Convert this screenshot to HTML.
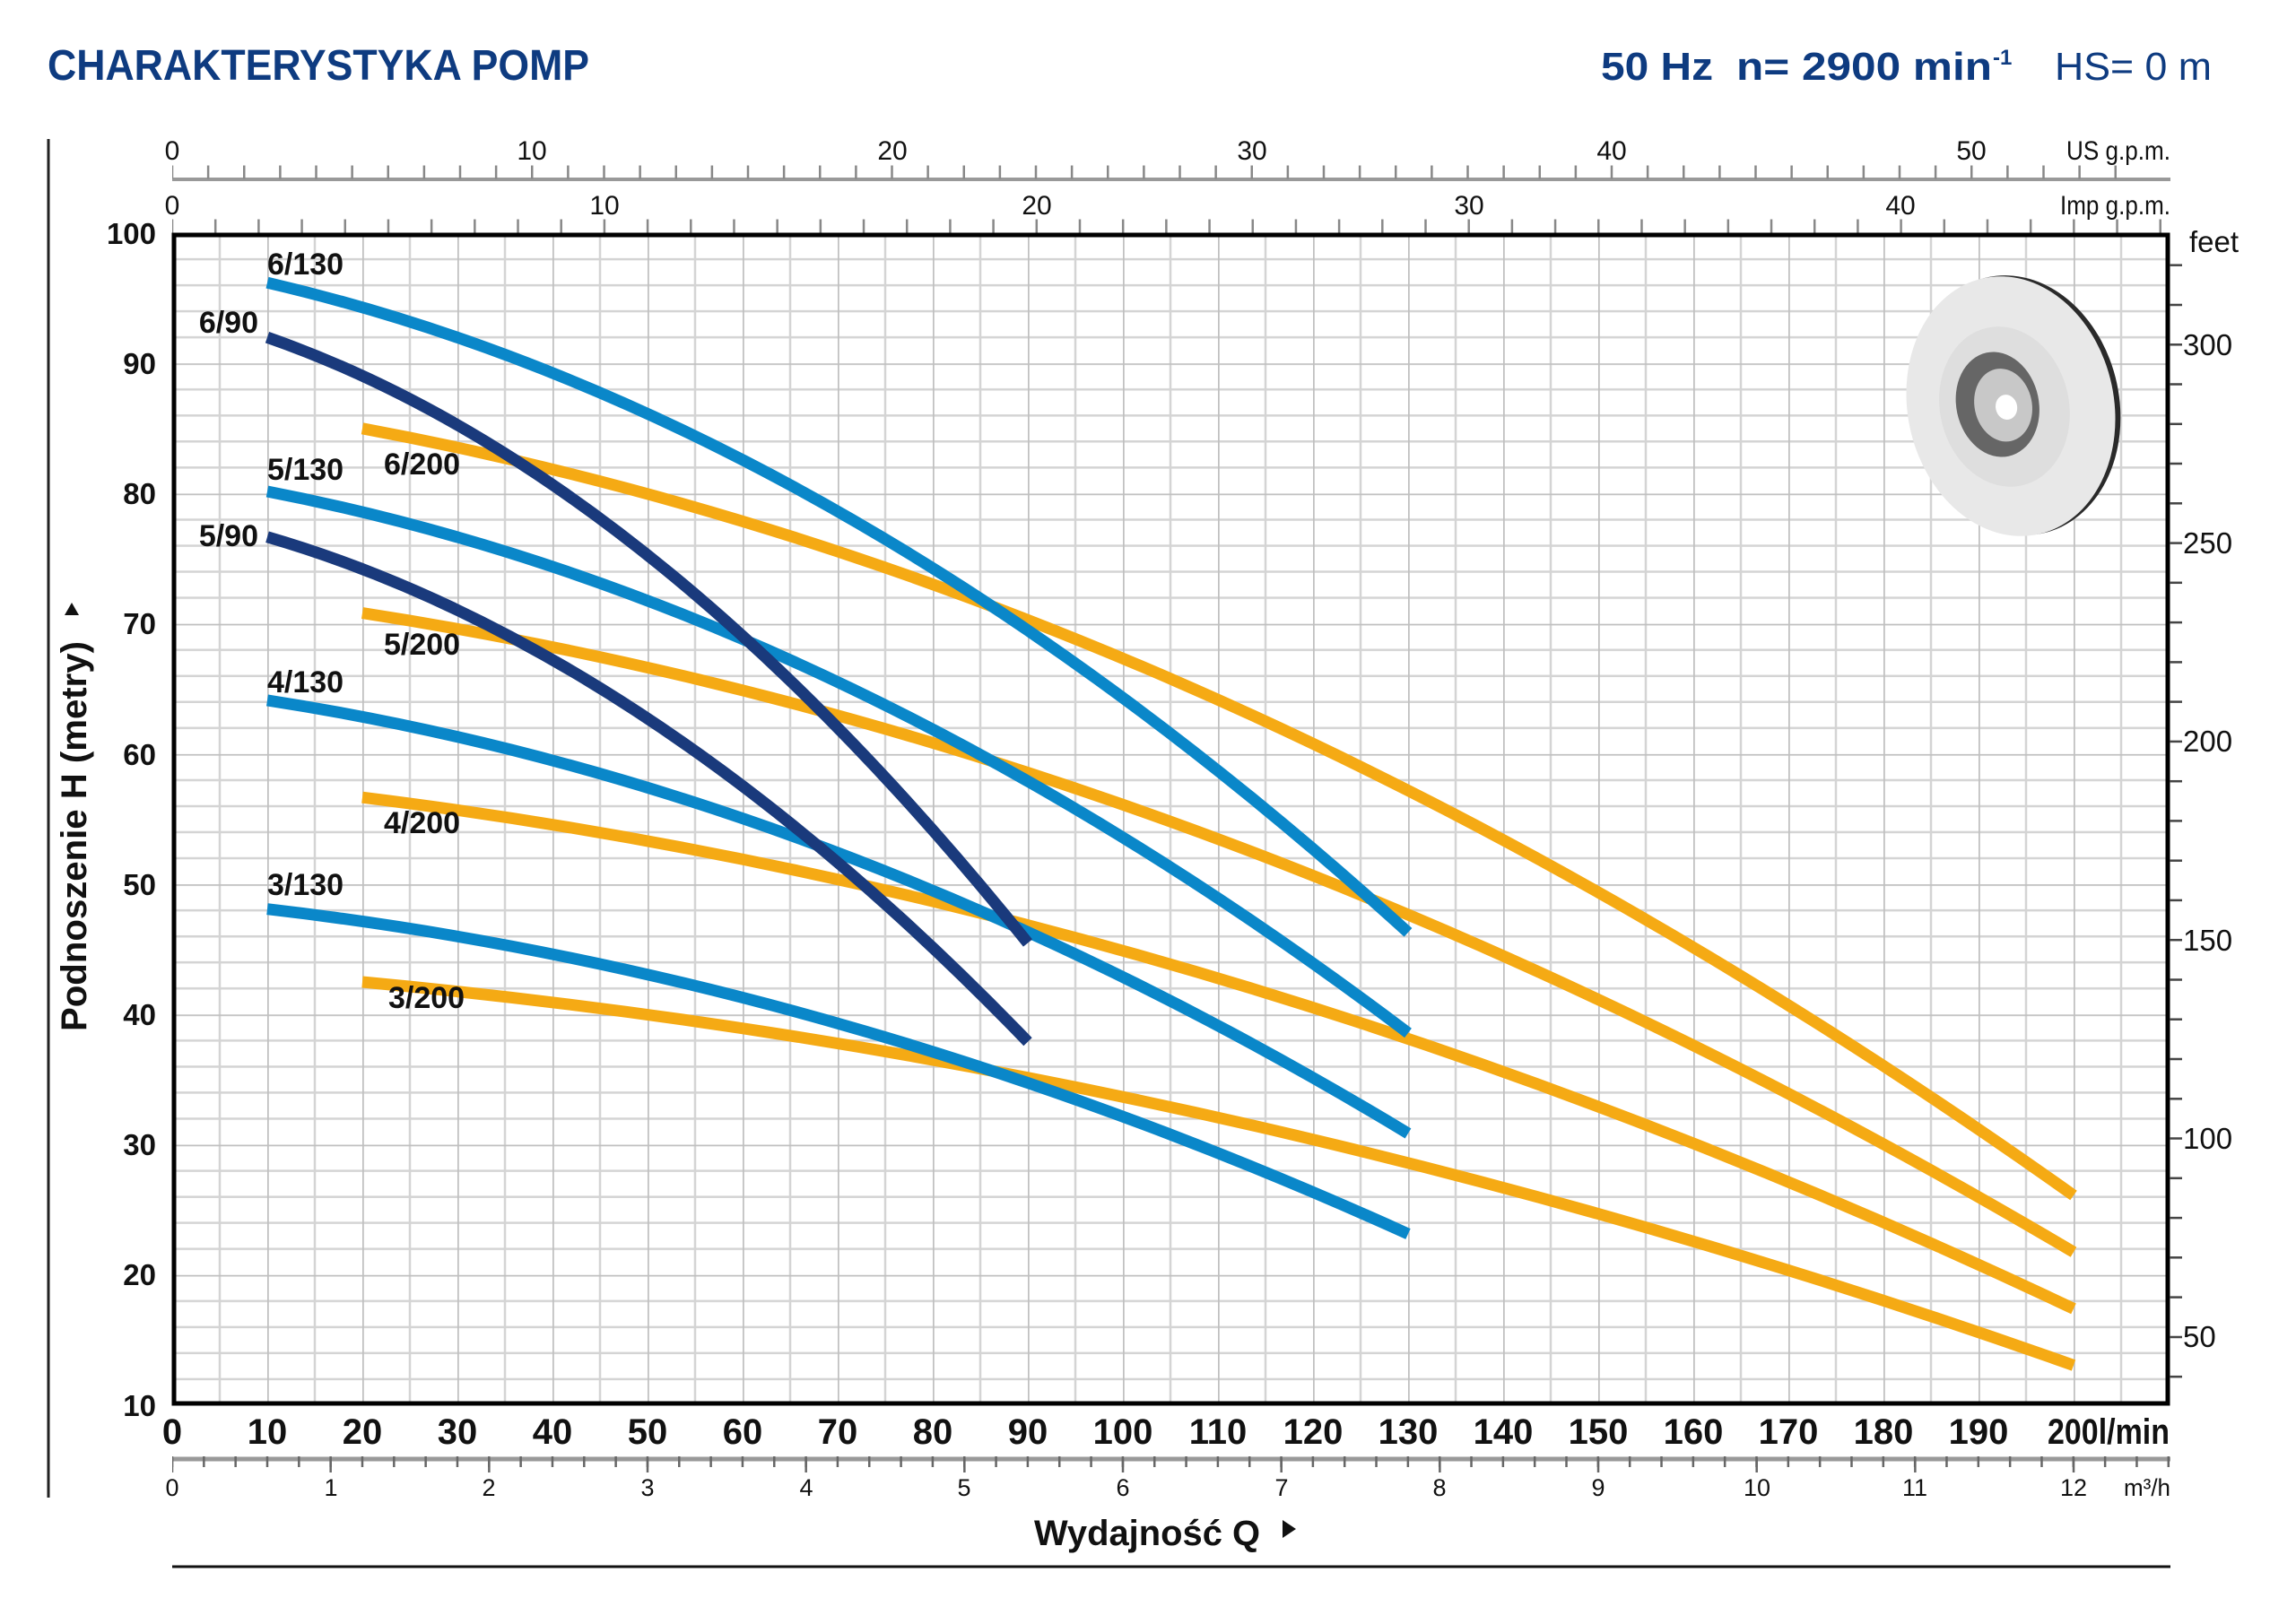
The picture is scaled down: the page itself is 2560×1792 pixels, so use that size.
<!DOCTYPE html>
<html><head><meta charset="utf-8"><style>
html,body{margin:0;padding:0;background:#fff;}
svg{display:block;}
.n{font-family:"Liberation Sans Narrow","Liberation Sans",sans-serif;}
.s{font-family:"Liberation Sans",sans-serif;}
</style></head><body>
<svg width="2560" height="1792" viewBox="0 0 2560 1792" xmlns="http://www.w3.org/2000/svg">
<defs>
<pattern id="g" patternUnits="userSpaceOnUse" x="192" y="260" width="106" height="145.22">
<g stroke="#d4d4d4" stroke-width="2.5">
<line x1="53" y1="0" x2="53" y2="145.22"/>
<line x1="0" y1="29.04" x2="106" y2="29.04"/>
<line x1="0" y1="58.09" x2="106" y2="58.09"/>
<line x1="0" y1="87.13" x2="106" y2="87.13"/>
<line x1="0" y1="116.18" x2="106" y2="116.18"/>
</g>
<g stroke="#c0c0c0" stroke-width="3.5">
<line x1="0" y1="0" x2="0" y2="145.22"/>
<line x1="0" y1="0" x2="106" y2="0"/>
</g>
</pattern>
</defs>
<rect width="2560" height="1792" fill="#fff"/>

<text class="n" x="53" y="89" font-size="48" font-weight="bold" fill="#0e3b80" textLength="604" lengthAdjust="spacingAndGlyphs">CHARAKTERYSTYKA POMP</text>
<text class="s" x="1785" y="89" font-size="44" font-weight="bold" fill="#0e3b80" textLength="125" lengthAdjust="spacingAndGlyphs">50 Hz</text>
<text class="s" x="1936" y="89" font-size="44" font-weight="bold" fill="#0e3b80" textLength="285" lengthAdjust="spacingAndGlyphs">n= 2900 min</text>
<text class="s" x="2222" y="72" font-size="24" font-weight="bold" fill="#0e3b80">-1</text>
<text class="s" x="2291" y="89" font-size="44" fill="#0e3b80" textLength="175" lengthAdjust="spacingAndGlyphs">HS= 0 m</text>

<line x1="54" y1="155" x2="54" y2="1670" stroke="#222" stroke-width="3"/>

<rect x="192" y="260" width="2227" height="1307" fill="url(#g)"/>

<line x1="192" y1="200" x2="2420" y2="200" stroke="#999" stroke-width="4"/>
<line x1="192" y1="192" x2="2360" y2="192" stroke="#888" stroke-width="15" stroke-dasharray="2.5 37.625" stroke-dashoffset="1.25"/>
<g class="n" font-size="30" fill="#111" text-anchor="middle">
<text x="192" y="178">0</text><text x="593" y="178">10</text><text x="995" y="178">20</text><text x="1396" y="178">30</text><text x="1797" y="178">40</text><text x="2198" y="178">50</text>
</g>
<text class="n" x="2304" y="178" font-size="30" fill="#111" textLength="116" lengthAdjust="spacingAndGlyphs">US g.p.m.</text>
<line x1="192" y1="252" x2="2412" y2="252" stroke="#888" stroke-width="15" stroke-dasharray="2.5 45.69" stroke-dashoffset="1.25"/>
<g class="n" font-size="30" fill="#111" text-anchor="middle">
<text x="192" y="239">0</text><text x="674" y="239">10</text><text x="1156" y="239">20</text><text x="1638" y="239">30</text><text x="2119" y="239">40</text>
</g>
<text class="n" x="2297" y="239" font-size="30" fill="#111" textLength="123" lengthAdjust="spacingAndGlyphs">Imp g.p.m.</text>

<g fill="none" stroke-width="13" stroke-linecap="butt">
<g stroke="#f5aa14">
<path d="M404 477.8 Q1358 655.1 2312 1333.0"/>
<path d="M404 683.6 Q1358 831.3 2312 1396.2"/>
<path d="M404 889.2 Q1358 1007.4 2312 1459.4"/>
<path d="M404 1095.0 Q1358 1183.6 2312 1522.5"/>
</g>
<g stroke="#0a87c9">
<path d="M298 315.2 Q934 462.9 1570 1039.8"/>
<path d="M298 548.0 Q934 671.1 1570 1151.9"/>
<path d="M298 780.9 Q934 879.4 1570 1263.9"/>
<path d="M298 1013.7 Q934 1087.5 1570 1376.0"/>
</g>
<g stroke="#1a3a7c">
<path d="M298 376.2 Q722 524.0 1146 1051.6"/>
<path d="M298 598.8 Q722 722.1 1146 1161.7"/>
</g>
</g>

<g class="n" font-size="34" font-weight="bold" fill="#111">
<text x="298" y="306">6/130</text>
<text x="288" y="371" text-anchor="end">6/90</text>
<text x="298" y="535">5/130</text>
<text x="288" y="609" text-anchor="end">5/90</text>
<text x="298" y="772">4/130</text>
<text x="298" y="998">3/130</text>
<text x="428" y="529">6/200</text>
<text x="428" y="730">5/200</text>
<text x="428" y="929">4/200</text>
<text x="433" y="1124">3/200</text>
</g>

<g transform="rotate(-12 2242 453)">
<ellipse cx="2247" cy="453" rx="116" ry="146" fill="#2a2a2a"/>
<ellipse cx="2242" cy="453" rx="115" ry="146" fill="#e8e8e8"/>
<ellipse cx="2235" cy="452" rx="72" ry="90" fill="#dedede"/>
<ellipse cx="2228" cy="448" rx="46" ry="59" fill="#666"/>
<ellipse cx="2234" cy="450" rx="32" ry="41" fill="#c8c8c8"/>
<ellipse cx="2237" cy="453" rx="12" ry="14" fill="#fff"/>
</g>

<rect x="194" y="262" width="2223" height="1303" fill="none" stroke="#000" stroke-width="5"/>

<g stroke="#444" stroke-width="2.5">
<line x1="2419" y1="1535.2" x2="2433" y2="1535.2"/><line x1="2419" y1="1491.0" x2="2433" y2="1491.0"/>
<line x1="2419" y1="1446.6" x2="2433" y2="1446.6"/><line x1="2419" y1="1402.3" x2="2433" y2="1402.3"/>
<line x1="2419" y1="1358.1" x2="2433" y2="1358.1"/><line x1="2419" y1="1313.8" x2="2433" y2="1313.8"/>
<line x1="2419" y1="1269.5" x2="2433" y2="1269.5"/><line x1="2419" y1="1225.3" x2="2433" y2="1225.3"/>
<line x1="2419" y1="1181.0" x2="2433" y2="1181.0"/><line x1="2419" y1="1136.7" x2="2433" y2="1136.7"/>
<line x1="2419" y1="1092.5" x2="2433" y2="1092.5"/><line x1="2419" y1="1048.2" x2="2433" y2="1048.2"/>
<line x1="2419" y1="1003.9" x2="2433" y2="1003.9"/><line x1="2419" y1="959.7" x2="2433" y2="959.7"/>
<line x1="2419" y1="915.4" x2="2433" y2="915.4"/><line x1="2419" y1="871.2" x2="2433" y2="871.2"/>
<line x1="2419" y1="826.9" x2="2433" y2="826.9"/><line x1="2419" y1="782.6" x2="2433" y2="782.6"/>
<line x1="2419" y1="738.4" x2="2433" y2="738.4"/><line x1="2419" y1="694.1" x2="2433" y2="694.1"/>
<line x1="2419" y1="649.8" x2="2433" y2="649.8"/><line x1="2419" y1="605.6" x2="2433" y2="605.6"/>
<line x1="2419" y1="561.3" x2="2433" y2="561.3"/><line x1="2419" y1="517.0" x2="2433" y2="517.0"/>
<line x1="2419" y1="472.8" x2="2433" y2="472.8"/><line x1="2419" y1="428.5" x2="2433" y2="428.5"/>
<line x1="2419" y1="384.3" x2="2433" y2="384.3"/><line x1="2419" y1="340.0" x2="2433" y2="340.0"/>
<line x1="2419" y1="295.7" x2="2433" y2="295.7"/>
</g>
<g class="n" font-size="33" fill="#111">
<text x="2434" y="1502">50</text>
<text x="2434" y="1281">100</text>
<text x="2434" y="1060">150</text>
<text x="2434" y="838">200</text>
<text x="2434" y="617">250</text>
<text x="2434" y="396">300</text>
<text x="2441" y="281">feet</text>
</g>

<g class="s" font-size="33" font-weight="bold" fill="#111" text-anchor="end">
<text x="174" y="272">100</text><text x="174" y="417">90</text><text x="174" y="562">80</text>
<text x="174" y="707">70</text><text x="174" y="853">60</text><text x="174" y="998">50</text>
<text x="174" y="1143">40</text><text x="174" y="1288">30</text><text x="174" y="1433">20</text>
<text x="174" y="1579">10</text>
</g>
<text class="n" transform="translate(96 1150) rotate(-90)" font-size="40" font-weight="bold" fill="#111" textLength="435" lengthAdjust="spacingAndGlyphs">Podnoszenie H (metry)</text>
<polygon points="72,686 88,686 80,672" fill="#111"/>

<g class="n" font-size="40" font-weight="bold" fill="#111" text-anchor="middle">
<text x="192" y="1610">0</text><text x="298" y="1610">10</text><text x="404" y="1610">20</text>
<text x="510" y="1610">30</text><text x="616" y="1610">40</text><text x="722" y="1610">50</text>
<text x="828" y="1610">60</text><text x="934" y="1610">70</text><text x="1040" y="1610">80</text>
<text x="1146" y="1610">90</text><text x="1252" y="1610">100</text><text x="1358" y="1610">110</text>
<text x="1464" y="1610">120</text><text x="1570" y="1610">130</text><text x="1676" y="1610">140</text>
<text x="1782" y="1610">150</text><text x="1888" y="1610">160</text><text x="1994" y="1610">170</text>
<text x="2100" y="1610">180</text><text x="2206" y="1610">190</text>
</g>
<text class="n" x="2283" y="1610" font-size="40" font-weight="bold" fill="#111" textLength="136" lengthAdjust="spacingAndGlyphs">200l/min</text>

<line x1="192" y1="1627" x2="2420" y2="1627" stroke="#999" stroke-width="5"/>
<line x1="192" y1="1630" x2="2420" y2="1630" stroke="#666" stroke-width="12" stroke-dasharray="2.5 32.83" stroke-dashoffset="1.25"/>
<line x1="192" y1="1634" x2="2420" y2="1634" stroke="#666" stroke-width="16" stroke-dasharray="2.5 174.17" stroke-dashoffset="1.25"/>
<g class="n" font-size="27" fill="#111" text-anchor="middle">
<text x="192" y="1668">0</text><text x="369" y="1668">1</text><text x="545" y="1668">2</text>
<text x="722" y="1668">3</text><text x="899" y="1668">4</text><text x="1075" y="1668">5</text>
<text x="1252" y="1668">6</text><text x="1429" y="1668">7</text><text x="1605" y="1668">8</text>
<text x="1782" y="1668">9</text><text x="1959" y="1668">10</text><text x="2135" y="1668">11</text>
<text x="2312" y="1668">12</text>
</g>
<text class="n" x="2368" y="1668" font-size="27" fill="#111" textLength="52" lengthAdjust="spacingAndGlyphs">m³/h</text>

<text class="n" x="1153" y="1723" font-size="40" font-weight="bold" fill="#111" textLength="252" lengthAdjust="spacingAndGlyphs">Wydajność Q</text>
<polygon points="1430,1695 1445,1705 1430,1715" fill="#111"/>
<line x1="192" y1="1747" x2="2420" y2="1747" stroke="#111" stroke-width="3"/>
</svg>
</body></html>
